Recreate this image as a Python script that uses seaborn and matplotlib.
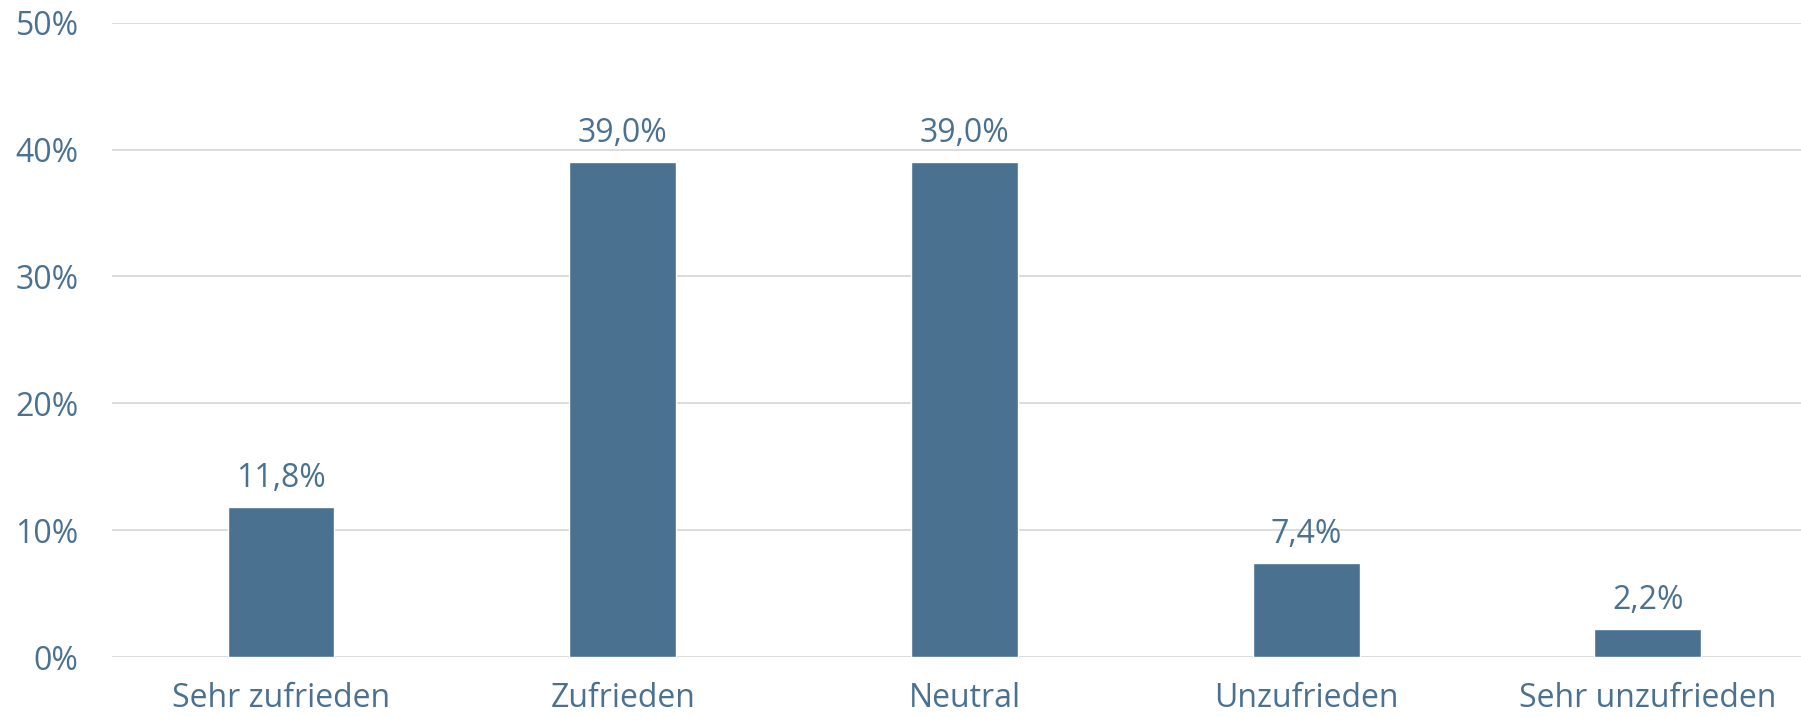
import matplotlib
matplotlib.use("Agg")
import matplotlib.pyplot as plt
import seaborn as sns
import pandas as pd
from matplotlib.ticker import FuncFormatter, MultipleLocator

categories = ["Sehr zufrieden", "Zufrieden", "Neutral", "Unzufrieden", "Sehr unzufrieden"]
values = [11.8, 39.0, 39.0, 7.4, 2.2]
value_labels = ["11,8%", "39,0%", "39,0%", "7,4%", "2,2%"]

sns.set_theme(style="white")
plt.rcParams['font.family'] = ['Open Sans', 'DejaVu Sans']

bar_color = "#4A7190"
text_color = "#4A7190"
fs = 23

df = pd.DataFrame({"cat": categories, "val": values})

fig = plt.figure(figsize=(18.01, 7.17), dpi=100)
ax = fig.add_axes([112/1801, 1 - 657/717, (1801-112)/1801, (657-22.7)/717])

sns.barplot(data=df, x="cat", y="val", color=bar_color, width=0.313, ax=ax, saturation=1)

ax.set_xlim(-0.4945, 4.448)
ax.set_ylim(0, 50)
ax.yaxis.set_major_locator(MultipleLocator(10))
ax.yaxis.set_major_formatter(FuncFormatter(lambda v, p: f"{int(v)}%"))
ax.grid(axis="y", color="#d6d6d6", linewidth=1.2)
ax.set_axisbelow(True)
for s in ax.spines.values():
    s.set_visible(False)
ax.set_xlabel("")
ax.set_ylabel("")
ax.tick_params(axis="y", labelsize=fs, labelcolor=text_color, length=0, pad=24)
ax.tick_params(axis="x", labelsize=fs, labelcolor=text_color, length=0, pad=18)

for i, (v, lab) in enumerate(zip(values, value_labels)):
    ax.annotate(lab, (i, v), xytext=(0, 9), textcoords="offset points",
                ha="center", va="bottom", fontsize=fs, color=text_color)

fig.savefig("out.png", dpi=100)
